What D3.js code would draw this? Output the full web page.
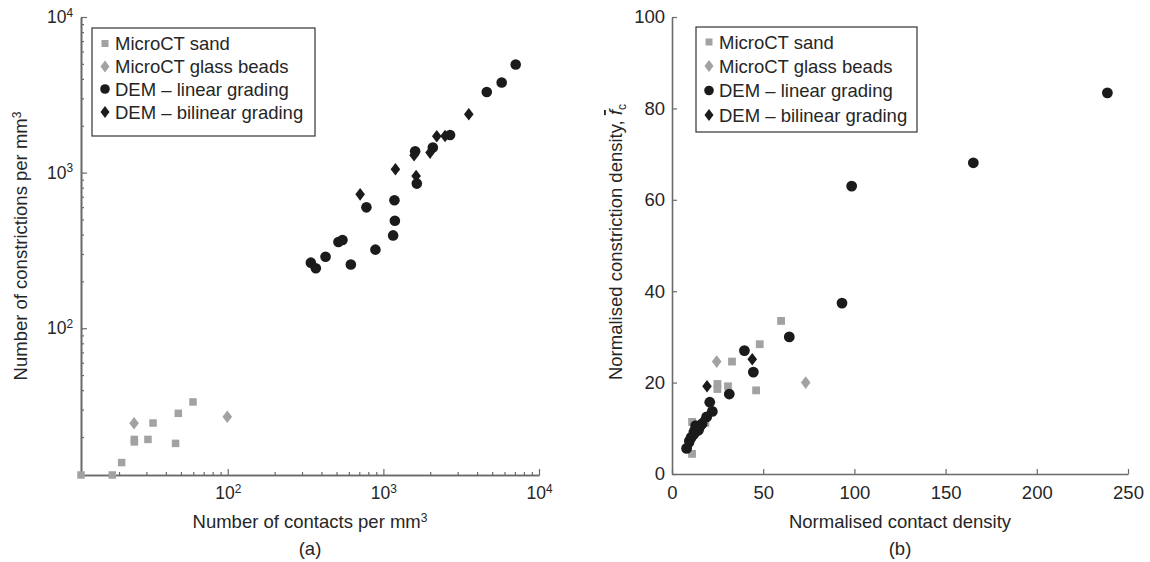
<!DOCTYPE html>
<html><head><meta charset="utf-8">
<script src="https://cdn.jsdelivr.net/npm/d3@7"></script>
<style>
body{margin:0;background:#fff}
text{font-family:"Liberation Sans",Arial,Helvetica,sans-serif;fill:#262626}
</style>
</head><body>
<svg id="chart" width="1150" height="562"></svg>
<script>
// ---------- data ----------
const seriesNames = ["MicroCT sand", "MicroCT glass beads", "DEM \u2013 linear grading", "DEM \u2013 bilinear grading"];

// Panel (a): contacts vs constrictions per mm^3 (log-log)
const aSandX = [11.4, 18.1, 20.8, 25.1, 25.1, 30.7, 33.1, 46.2, 48.1, 59.8];
const aSandY = [11.4, 11.4, 13.7, 19.3, 18.6, 19.3, 24.6, 18.2, 28.4, 33.6];
const aBeadsX = [25.0, 99.3];
const aBeadsY = [24.5, 27.0];
const aLinX = [342, 368, 425, 514, 546, 618, 778, 889, 1155, 1185, 1178, 1640, 1600, 2078, 2683, 4617, 5757, 7084];
const aLinY = [264, 243, 288, 358, 369, 257, 598, 320, 395, 491, 664, 850, 1371, 1448, 1745, 3299, 3793, 4950];
const aBilX = [709, 1195, 1575, 1623, 1995, 2203, 2491, 3538];
const aBilY = [725, 1050, 1292, 951, 1345, 1711, 1719, 2371];

// Panel (b): normalised contact density vs normalised constriction density
const bSandX = [11.0, 11.0, 18.3, 24.9, 24.9, 30.7, 32.9, 46.1, 48.1, 59.8];
const bSandY = [4.4, 11.4, 11.2, 19.7, 18.6, 19.2, 24.6, 18.3, 28.4, 33.5];
const bBeadsX = [24.5, 73.3];
const bBeadsY = [24.6, 20.0];
const bLinX = [238.7, 165.2, 98.5, 93.2, 64.3, 39.7, 44.6, 31.4, 20.7, 22.1, 8.0, 9.5, 10.5, 12.0, 13.0, 14.5, 16.5, 19.0];
const bLinY = [83.4, 68.1, 63.0, 37.4, 30.0, 27.0, 22.3, 17.5, 15.7, 13.7, 5.6, 7.2, 8.0, 9.2, 10.6, 9.6, 11.0, 12.5];
const bBilX = [19.2, 44.0, 9.5, 11.5, 12.5, 13.5, 15.5, 17.5];
const bBilY = [19.2, 25.1, 6.5, 8.5, 10.2, 9.0, 10.0, 11.8];

const aTicks = [100, 1000, 10000];
const aMinor = [20,30,40,50,60,70,80,90,200,300,400,500,600,700,800,900,2000,3000,4000,5000,6000,7000,8000,9000];
const bXTicks = [0, 50, 100, 150, 200, 250];
const bYTicks = [0, 20, 40, 60, 80, 100];

// ---------- style ----------
const GREY = "#a2a2a2", BLACK = "#1b1b1b", AXIS = "#6a6a6a";
const svg = d3.select("#chart");
const zip = (xs, ys) => xs.map((x, i) => ({x, y: ys[i]}));

function diamondPath(cx, cy, hw, hh) {
  return `M${cx},${cy - hh}L${cx + hw},${cy}L${cx},${cy + hh}L${cx - hw},${cy}Z`;
}

function drawMarkers(g, x, y, sets, sz) {
  g.selectAll(null).data(sets.sand).join("rect")
    .attr("x", d => x(d.x) - sz.sq / 2).attr("y", d => y(d.y) - sz.sq / 2)
    .attr("width", sz.sq).attr("height", sz.sq).attr("fill", GREY);
  g.selectAll(null).data(sets.beads).join("path")
    .attr("d", d => diamondPath(x(d.x), y(d.y), sz.dw, sz.dh)).attr("fill", GREY);
  g.selectAll(null).data(sets.lin).join("circle")
    .attr("cx", d => x(d.x)).attr("cy", d => y(d.y)).attr("r", sz.r).attr("fill", BLACK);
  g.selectAll(null).data(sets.bil).join("path")
    .attr("d", d => diamondPath(x(d.x), y(d.y), sz.dw, sz.dh)).attr("fill", BLACK);
}

function drawLegend(g, x0, y0, w, h, rows, mx, tx) {
  g.append("rect").attr("x", x0).attr("y", y0).attr("width", w).attr("height", h)
    .attr("fill", "#fff").attr("stroke", "#333").attr("stroke-width", 1.2);
  const kinds = ["sq", "gd", "c", "bd"];
  seriesNames.forEach((name, i) => {
    const cy = rows[i];
    const k = kinds[i];
    if (k === "sq") g.append("rect").attr("x", mx - 3.5).attr("y", cy - 3.5).attr("width", 7).attr("height", 7).attr("fill", GREY);
    if (k === "gd") g.append("path").attr("d", diamondPath(mx, cy, 4.5, 6)).attr("fill", GREY);
    if (k === "c") g.append("circle").attr("cx", mx).attr("cy", cy).attr("r", 4.8).attr("fill", BLACK);
    if (k === "bd") g.append("path").attr("d", diamondPath(mx, cy, 4.5, 6)).attr("fill", BLACK);
    g.append("text").attr("x", tx).attr("y", cy).attr("dy", "0.36em")
      .style("font-size", "18.5px").text(name);
  });
}

function styleAxis(g) {
  g.select(".domain").attr("stroke", AXIS).attr("stroke-width", 1.6);
  g.selectAll(".tick line").attr("stroke", AXIS).attr("stroke-width", 1.2);
  g.selectAll("text").style("font-family", '"Liberation Sans",Arial,sans-serif').attr("fill", "#262626");
}

function powLabels(g, size) {
  g.selectAll(".tick text").each(function (d) {
    const t = d3.select(this);
    const e = Math.round(Math.log10(d));
    t.text("10").style("font-size", size + "px");
    t.append("tspan").attr("dy", "-0.55em").style("font-size", (size * 0.68) + "px").text(e);
  });
}

// ---------- Panel (a) ----------
const xa = d3.scaleLog().domain([11.4, 10000]).range([81, 539]);
const ya = d3.scaleLog().domain([11.4, 10000]).range([475, 17]);
const ga = svg.append("g");

ga.append("g").attr("transform", "translate(0,475)")
  .call(d3.axisBottom(xa).tickValues(aMinor).tickSizeInner(-3).tickSizeOuter(0).tickFormat(""))
  .call(styleAxis);
ga.append("g").attr("transform", "translate(81,0)")
  .call(d3.axisLeft(ya).tickValues(aMinor).tickSizeInner(-3).tickSizeOuter(0).tickFormat(""))
  .call(styleAxis);
const axA = ga.append("g").attr("transform", "translate(0,475)")
  .call(d3.axisBottom(xa).tickValues(aTicks).tickSizeInner(-6).tickSizeOuter(0).tickPadding(12))
  .call(styleAxis);
powLabels(axA, 17.5);
const ayA = ga.append("g").attr("transform", "translate(81,0)")
  .call(d3.axisLeft(ya).tickValues(aTicks).tickSizeInner(-6).tickSizeOuter(0).tickPadding(8))
  .call(styleAxis);
powLabels(ayA, 17.5);

drawMarkers(ga, xa, ya, {
  sand: zip(aSandX, aSandY), beads: zip(aBeadsX, aBeadsY),
  lin: zip(aLinX, aLinY), bil: zip(aBilX, aBilY)
}, {sq: 7.5, dw: 4.8, dh: 6.3, r: 5.3});

drawLegend(ga, 92, 28, 223, 108, [43.5, 66.5, 89, 112], 105, 115);

const ta = ga.append("text").attr("x", 310).attr("y", 528).attr("text-anchor", "middle").style("font-size", "18.5px");
ta.append("tspan").text("Number of contacts per mm");
ta.append("tspan").attr("dy", "-0.5em").style("font-size", "12px").text("3");
const tya = ga.append("text").attr("transform", "translate(27,246) rotate(-90)").attr("text-anchor", "middle").style("font-size", "18.5px");
tya.append("tspan").text("Number of constrictions per mm");
tya.append("tspan").attr("dy", "-0.5em").style("font-size", "12px").text("3");
ga.append("text").attr("x", 310).attr("y", 555).attr("text-anchor", "middle").style("font-size", "18.5px").text("(a)");

// ---------- Panel (b) ----------
const xb = d3.scaleLinear().domain([0, 250]).range([672, 1128]);
const yb = d3.scaleLinear().domain([0, 100]).range([474, 17]);
const gb = svg.append("g");

gb.append("g").attr("transform", "translate(0,474)")
  .call(d3.axisBottom(xb).tickValues(bXTicks).tickSizeInner(-5).tickSizeOuter(0).tickPadding(11.5))
  .call(styleAxis)
  .selectAll(".tick text").style("font-size", "18.5px");
gb.append("g").attr("transform", "translate(672,0)")
  .call(d3.axisLeft(yb).tickValues(bYTicks).tickSizeInner(-5).tickSizeOuter(0).tickPadding(7))
  .call(styleAxis)
  .selectAll(".tick text").style("font-size", "18.5px");

drawMarkers(gb, xb, yb, {
  sand: zip(bSandX, bSandY), beads: zip(bBeadsX, bBeadsY),
  lin: zip(bLinX, bLinY), bil: zip(bBilX, bBilY)
}, {sq: 7.8, dw: 4.8, dh: 6.3, r: 5.4});

drawLegend(gb, 696, 27, 221, 105, [42, 66, 90.5, 115], 709, 719);

gb.append("text").attr("x", 900).attr("y", 528).attr("text-anchor", "middle").style("font-size", "18.5px")
  .text("Normalised contact density");
const tyb = gb.append("text").attr("transform", "translate(622,242) rotate(-90)").attr("text-anchor", "middle").style("font-size", "18.5px");
tyb.append("tspan").text("Normalised constriction density, ");
tyb.append("tspan").style("font-style", "italic").style("text-decoration", "overline").text("f");
tyb.append("tspan").attr("dy", "0.3em").style("font-size", "12px").text("c");
gb.append("text").attr("x", 900).attr("y", 555).attr("text-anchor", "middle").style("font-size", "18.5px").text("(b)");
</script>
</body></html>
